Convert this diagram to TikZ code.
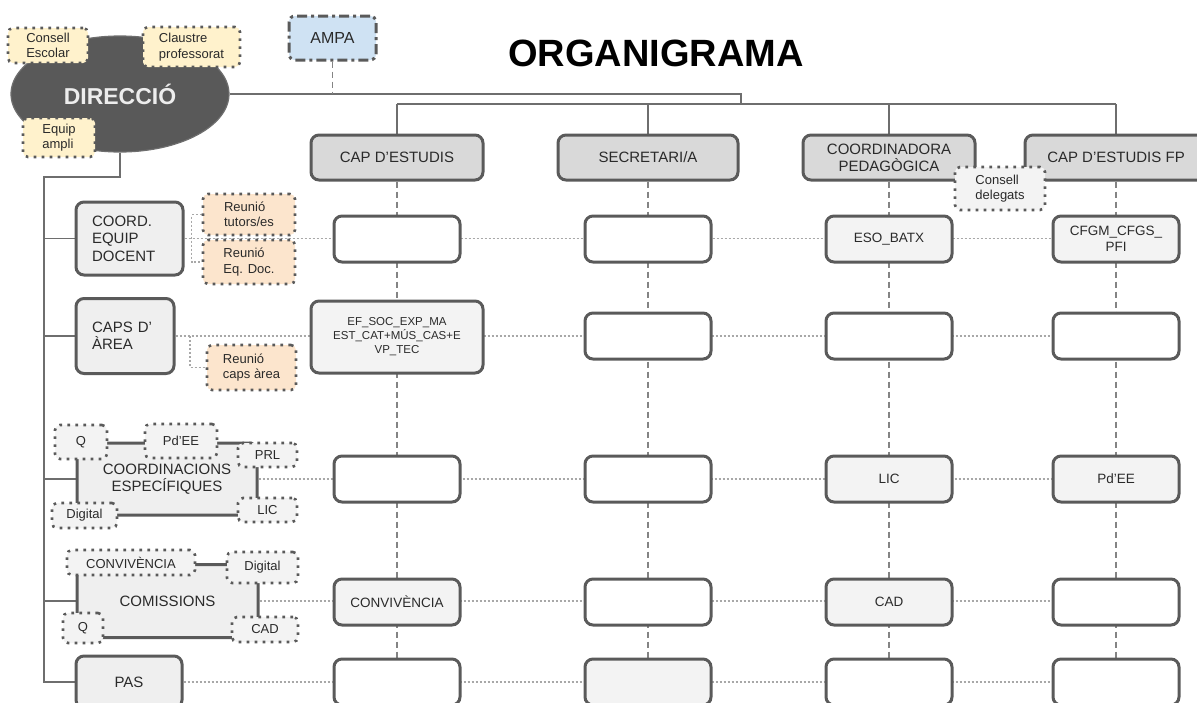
\documentclass[tikz,border=0pt]{standalone}
\usepackage{fontspec}
\setmainfont{Liberation Sans}
\usetikzlibrary{shapes.geometric}
\definecolor{bd}{HTML}{5A5A5A}
\definecolor{headfill}{HTML}{D9D9D9}
\definecolor{leftfill}{HTML}{EFEFEF}
\definecolor{lg}{HTML}{F3F3F3}
\definecolor{yel}{HTML}{FFF2CC}
\definecolor{org}{HTML}{FCE5CD}
\definecolor{blu}{HTML}{CFE2F3}
\definecolor{cn}{HTML}{6E6E6E}
\definecolor{dl}{HTML}{A8A8A8}
\definecolor{tx}{HTML}{2A2A2A}
\definecolor{dirfill}{HTML}{595959}
\newcommand{\fz}[2]{\fontsize{#1}{#2}\selectfont}
\newcommand{\sq}{\char"0027\relax}
\pgfdeclarelayer{bg}
\pgfsetlayers{bg,main}
\tikzset{
  every node/.style={inner sep=0pt, text=tx},
  wh/.style 2 args={minimum width=#1, minimum height=#2},
  head/.style={draw=bd, line width=3, fill=headfill, rounded corners=8, align=center, font=\fz{15}{17}},
  cell/.style={draw=bd, line width=3, fill=white, rounded corners=8, wh={126}{46}, align=center, font=\fz{13.5}{16}},
  cellg/.style={cell, fill=lg},
  lbox/.style={draw=bd, line width=3, fill=leftfill, rounded corners=8, align=center, font=\fz{15}{17.5}},
  tag/.style={draw=bd, line width=2.6, dash pattern=on 2.6 off 5.4, rounded corners=5, align=left, font=\fz{13}{15.5}},
  ampabox/.style={draw=bd, line width=3, dash pattern=on 10 off 4 on 3 off 4, fill=blu, rounded corners=6, font=\fz{16}{18}},
  ell/.style={ellipse, draw=cn, line width=1.2, fill=dirfill, text=white!93!black, font=\fz{23}{26}\bfseries},
  conn/.style={draw=cn, line width=1.3},
  vdash/.style={draw=cn!85, line width=1.1, dash pattern=on 6 off 4},
  hdot/.style={draw=dl, line width=1.1, dash pattern=on 2 off 2},
}
\begin{document}
\begin{tikzpicture}[x=1pt,y=-1pt]
\useasboundingbox (0,0) rectangle (1197,702);

% title
\node[font=\fz{38}{40}\bfseries, text=black] (title) at (656,53) {ORGANIGRAMA};

% direction
\node[ell, wh={218}{116}] (dir) at (120,94) {DIRECCIÓ};
\node[tag, fill=yel, wh={80}{35}] (ce) at (48,45.5) {Consell\\Escolar};
\node[tag, fill=yel, wh={97}{40}] (cp) at (191.5,47) {Claustre\\professorat};
\node[tag, fill=yel, wh={72}{39}] (ea) at (59,137.5) {Equip\\ampli};
\node[ampabox, wh={87}{44}] (ampa) at (332.5,38) {AMPA};

% heads
\node[head, wh={172}{45}] (h1) at (397,157.5) {CAP D\sq ESTUDIS};
\node[head, wh={180}{45}] (h2) at (648,157.5) {SECRETARI/A};
\node[head, wh={172}{45}] (h3) at (889,157.5) {COORDINADORA\\PEDAGÒGICA};
\node[head, wh={182}{45}] (h4) at (1116,157.5) {CAP D\sq ESTUDIS FP};
\node[tag, fill=lg, wh={90}{43}] (cd) at (1000,188.5) {Consell\\delegats};

% grid row 1
\node[cell] (a1) at (397,239) {};
\node[cell] (b1) at (648,239) {};
\node[cellg] (c1) at (889,239) {ESO\_BATX};
\node[cellg] (d1) at (1116,239) {CFGM\_CFGS\_\\PFI};
% row 2
\node[cellg, wh={172}{72}, font=\fz{11.5}{14}] (a2) at (397,337) {EF\_SOC\_EXP\_MA\\EST\_CAT+MÚS\_CAS+E\\VP\_TEC};
\node[cell] (b2) at (648,336) {};
\node[cell] (c2) at (889,336) {};
\node[cell] (d2) at (1116,336) {};
% row 3
\node[cell] (a3) at (397,479) {};
\node[cell] (b3) at (648,479) {};
\node[cellg] (c3) at (889,479) {LIC};
\node[cellg] (d3) at (1116,479) {Pd'EE};
% row 4
\node[cellg] (a4) at (397,602) {CONVIVÈNCIA};
\node[cell] (b4) at (648,602) {};
\node[cellg] (c4) at (889,602) {CAD};
\node[cell] (d4) at (1116,602) {};
% row 5
\node[cell] (a5) at (397,682) {};
\node[cellg] (b5) at (648,682) {};
\node[cell] (c5) at (889,682) {};
\node[cell] (d5) at (1116,682) {};

% left column
\node[lbox, wh={107}{73}, text width=75, align=left] (le1) at (129.5,238.5) {COORD.\\EQUIP\\DOCENT};
\node[tag, fill=org, wh={92}{41}] (rt) at (249,214.5) {Reunió\\tutors/es};
\node[tag, fill=org, wh={92}{44}] (re) at (249,262) {Reunió\\Eq. Doc.};

\node[lbox, wh={98}{75}, text width=66, align=left] (le2) at (125,336) {CAPS D\sq\\ÀREA};
\node[tag, fill=org, wh={89}{45}] (rc) at (251.5,367.5) {Reunió\\caps àrea};

\node[lbox, wh={180}{72}] (le3) at (167,479) {COORDINACIONS\\ESPECÍFIQUES};
\node[tag, fill=lg, wh={52}{34}, align=center] (q1) at (81,442) {Q};
\node[tag, fill=lg, wh={72}{34}, align=center] (p1) at (181,441) {Pd'EE};
\node[tag, fill=lg, wh={59}{24}, align=center] (prl) at (267.5,455) {PRL};
\node[tag, fill=lg, wh={65}{25}, align=center] (dg1) at (84.5,515.5) {Digital};
\node[tag, fill=lg, wh={59}{24}, align=center] (lic1) at (267.5,510) {LIC};

\node[lbox, wh={181}{73}] (le4) at (167.5,601) {COMISSIONS};
\node[tag, fill=lg, wh={128}{25}, align=center] (cv) at (131,562.5) {CONVIVÈNCIA};
\node[tag, fill=lg, wh={71}{31}, align=center] (dg2) at (262.5,567.5) {Digital};
\node[tag, fill=lg, wh={40}{30}, align=center] (q2) at (83,628) {Q};
\node[tag, fill=lg, wh={66}{25}, align=center] (cad2) at (265,629.5) {CAD};

\node[lbox, wh={106}{52}] (le5) at (129,682) {PAS};

\coordinate (jn) at (741,104);
\coordinate (bl) at (397,104);
\coordinate (br) at (1116,104);
\coordinate (tk) at (44,177);
\coordinate (tb) at (44,682);
\coordinate (bk2) at (190,336);

\begin{pgfonlayer}{bg}
  % top connectors
  \draw[conn] (dir.east) -| (jn);
  \draw[conn] (bl) -- (br);
  \draw[conn] (h1.north) -- (bl);
  \draw[conn] (h2.north) -- (h2.north |- bl);
  \draw[conn] (h3.north) -- (h3.north |- bl);
  \draw[conn] (h4.north) -- (br);
  \draw[vdash] (ampa.south) -- (ampa.south |- dir.east);
  % trunk
  \draw[conn] (dir.south) |- (tk) -- (tb) -- (le5.west);
  \draw[conn] (tk |- le1.west) -- (le1.west);
  \draw[conn] (tk |- le2.west) -- (le2.west);
  \draw[conn] (tk |- le3.west) -- (le3.west);
  \draw[conn] (tk |- le4.west) -- (le4.west);
  % columns
  \draw[vdash] (h1.south) -- (a5.north);
  \draw[vdash] (h2.south) -- (b5.north);
  \draw[vdash] (h3.south) -- (c5.north);
  \draw[vdash] (h4.south) -- (d5.north);
  % rows
  \draw[hdot] (le1.east) -- (le1.east -| d1.west);
  \draw[hdot] (le2.east) -- (d2.west);
  \draw[hdot] (le3.east) -- (d3.west);
  \draw[hdot] (le4.east) -- (le4.east -| d4.west);
  \draw[hdot] (le5.east) -- (d5.west);
  % brackets
  \draw[hdot] (rt.west) -- ++(-10,0) |- (re.west);
  \draw[hdot] (bk2) |- (rc.west);
\end{pgfonlayer}
\end{tikzpicture}
\end{document}
